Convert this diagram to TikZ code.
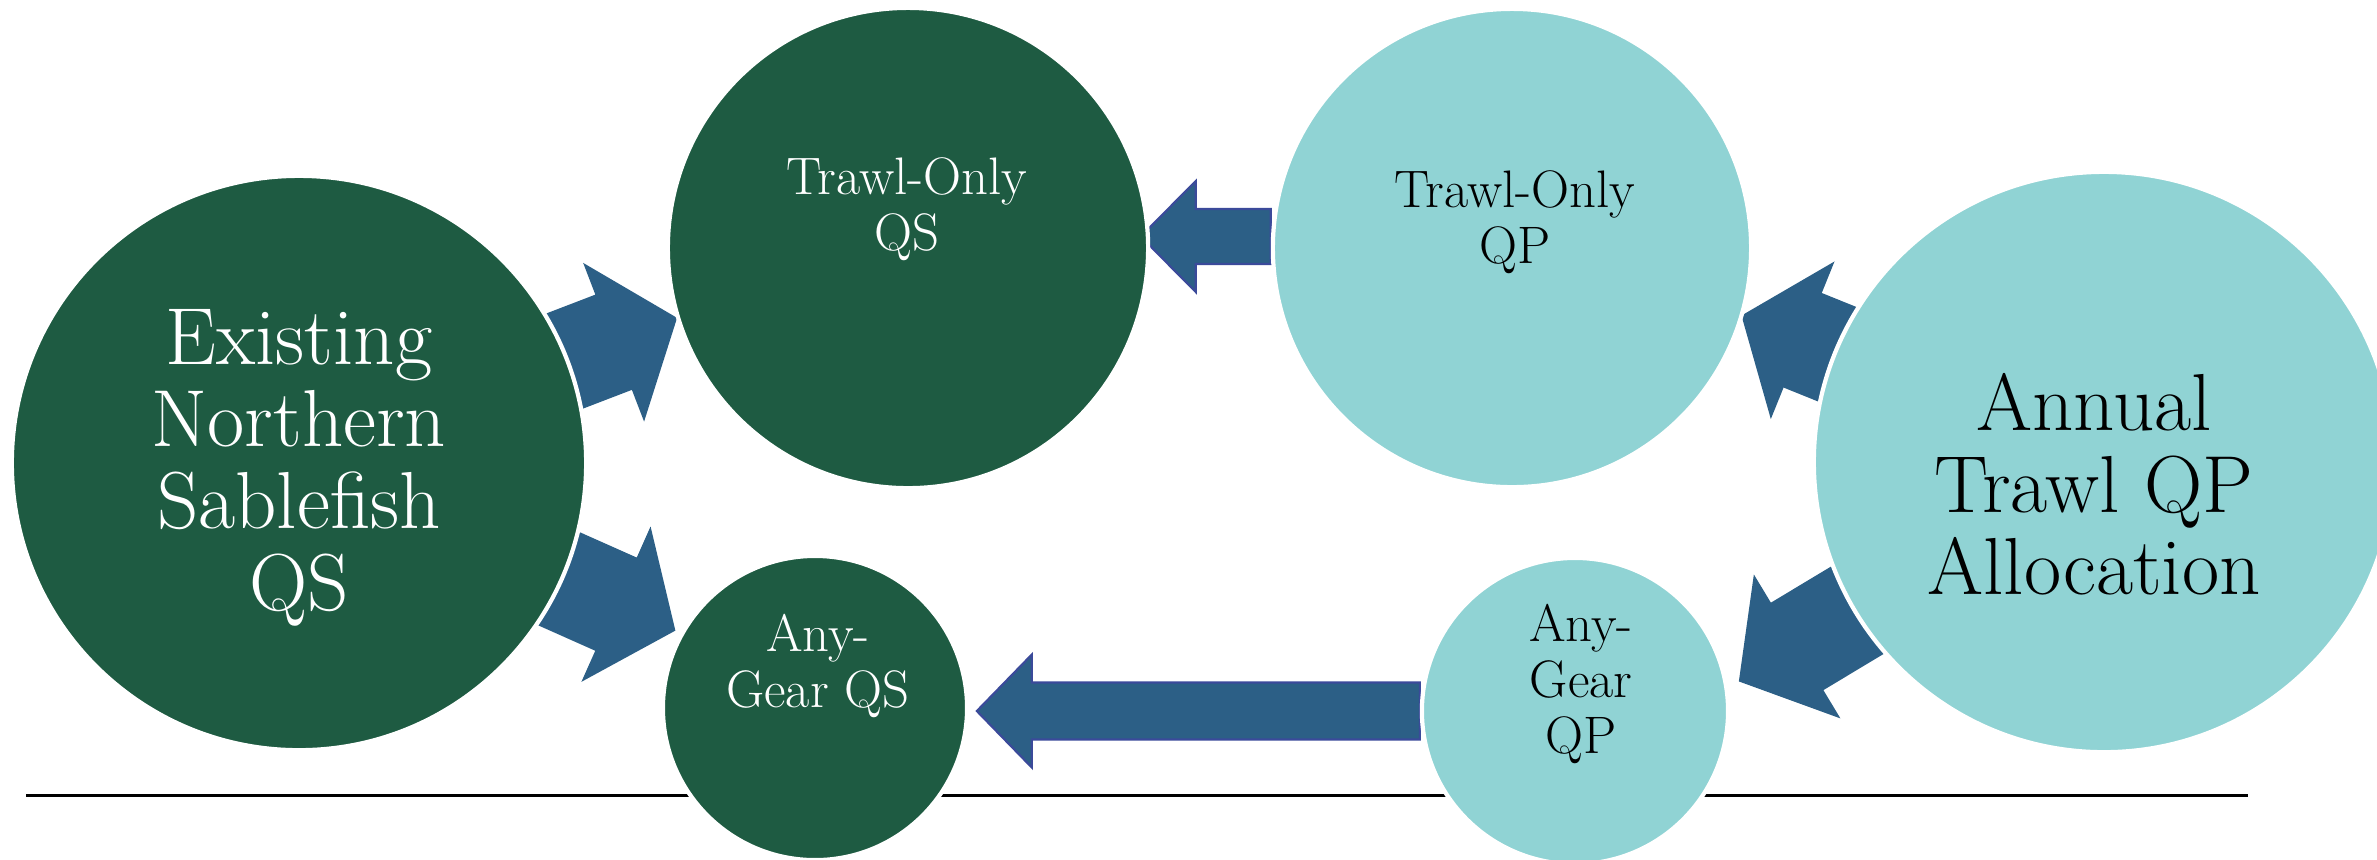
\documentclass[tikz,border=0pt]{standalone}
\usepackage{tikz}
\usetikzlibrary{calc}
\definecolor{qsgreen}{HTML}{1E5B42}
\definecolor{qpteal}{HTML}{90D3D4}
\definecolor{flowblue}{HTML}{2C5F86}
\definecolor{flowedge}{HTML}{3B4A9A}
\pgfdeclarelayer{back}
\pgfsetlayers{back,main}

\begin{document}
\begin{tikzpicture}[
    x=0.01cm, y=-0.01cm,
    disc/.style={circle, inner sep=0pt, draw=white, line width=1.2pt},
    qs/.style={disc, fill=qsgreen},
    qp/.style={disc, fill=qpteal},
    bigtxt/.style={align=center, inner sep=0pt, font=\fontsize{23}{23.3}\selectfont},
    smalltxt/.style={align=center, inner sep=0pt, font=\fontsize{15}{15.9}\selectfont},
    curvearrow/.style={fill=flowblue},
    flatarrow/.style={fill=flowblue, draw=flowedge, line width=0.6pt, line join=miter}
]
\useasboundingbox (0,0) rectangle (2377,859);

% quota share side
\node[qs, minimum size=5.74cm] (exist) at (299,463) {};
\node[qs, minimum size=4.80cm] (tqs) at (908,248) {};
\node[qs, minimum size=3.04cm] (aqs) at (815,708) {};
% quota pound side
\node[qp, minimum size=4.78cm] (tqp) at (1512,248) {};
\node[qp, minimum size=3.06cm] (aqp) at (1575,711) {};
\node[qp, minimum size=5.80cm] (annual) at (2104,462) {};

\node[bigtxt, text=white] (existtxt) at (299,468) {Existing\\Northern\\Sablefish\\QS};
\node[bigtxt] (annualtxt) at (2094,484) {Annual\\Trawl QP\\Allocation};
\node[smalltxt, text=white] (tqstxt) at (907,209) {Trawl-Only\\QS};
\node[smalltxt] (tqptxt) at (1515,222) {Trawl-Only\\QP};
\node[smalltxt, text=white] (aqstxt) at (818,666) {Any-\\Gear QS};
\node[smalltxt] (aqptxt) at (1581,684) {Any-\\Gear\\QP};

\begin{pgfonlayer}{back}
\draw[line width=0.85pt] (26,795) -- (2248,795);
% split of the existing QS
\fill[curvearrow, shift={(exist.center)}, rotate=21] (270,-51) -- (337,-51) -- (337,-85) -- (405,0) -- (337,85) -- (337,51) -- (270,51) -- cycle;
\fill[curvearrow, shift={(exist.center)}, rotate=-24] (270,-51) -- (347,-51) -- (347,-85) -- (412,0) -- (347,85) -- (347,51) -- (270,51) -- cycle;
% split of the annual QP
\fill[curvearrow, shift={(annual.center)}, rotate=158] (272,-51) -- (325,-51) -- (325,-85) -- (391,0) -- (325,85) -- (325,51) -- (272,51) -- cycle;
\fill[curvearrow, shift={(annual.center)}, rotate=211] (272,-51) -- (358,-51) -- (358,-84) -- (426,0) -- (358,84) -- (358,51) -- (272,51) -- cycle;
% QP to QS
\coordinate (a3) at ([yshift=0.115cm]tqp.west);
\filldraw[flatarrow, shift={(a3)}, rotate=180] (0,-27.5) -- (75,-27.5) -- (75,-55.5) -- (130,0) -- (75,55.5) -- (75,27.5) -- (0,27.5) -- cycle;
\coordinate (a6) at (aqp.west);
\filldraw[flatarrow, shift={(a6)}, rotate=180] (0,-28.5) -- (388,-28.5) -- (388,-56.5) -- (443,0) -- (388,56.5) -- (388,28.5) -- (0,28.5) -- cycle;
\end{pgfonlayer}
\end{tikzpicture}
\end{document}
